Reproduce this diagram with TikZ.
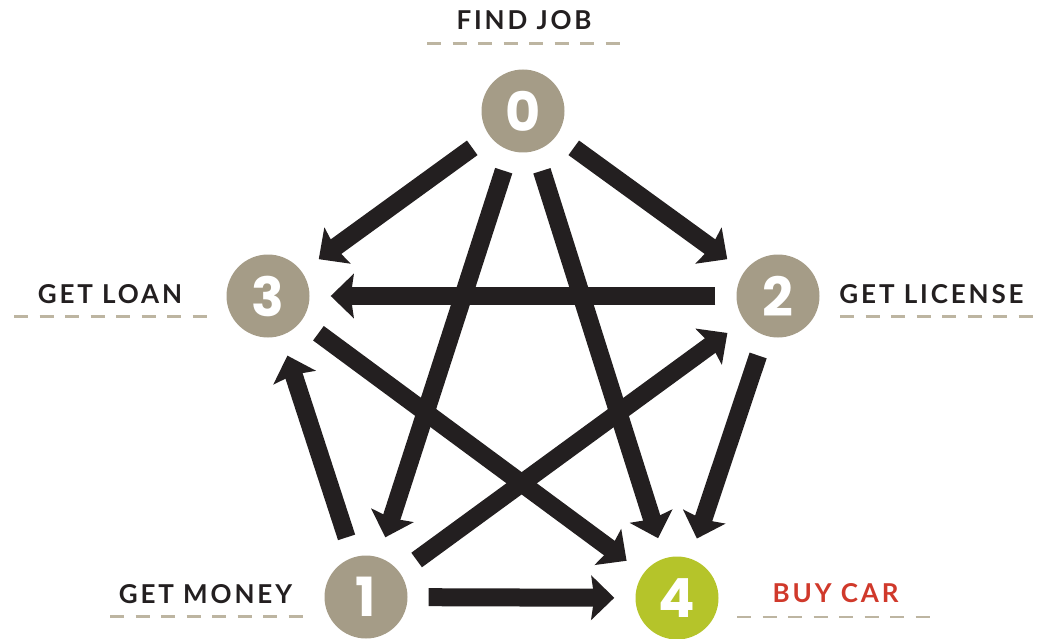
\documentclass[tikz,border=0pt]{standalone}
\usepackage{fontspec}
\setmainfont{Lato}
\newfontfamily\labelfont[LetterSpace=11]{Lato}
\newfontfamily\digitfont{Poppins}
\usetikzlibrary{arrows.meta}
\definecolor{tan}{HTML}{A59C87}
\definecolor{lime}{HTML}{B5C42A}
\definecolor{ink}{HTML}{231F20}
\definecolor{carred}{HTML}{D0392B}
\definecolor{dashtan}{HTML}{BDB5A1}
\begin{document}
\begin{tikzpicture}[x=1pt,y=-1pt,
  stage/.style={circle, fill=tan, minimum size=83pt, inner sep=0pt, text=white,
    font=\digitfont\bfseries\fontsize{54}{54}\selectfont},
  goal/.style={stage, fill=lime},
  arr/.style={line width=18pt, draw=ink, -{Stealth[length=23pt,width=44pt,inset=3pt]},
    shorten <=21pt, shorten >=21pt},
  lbl/.style={font=\labelfont\bfseries\fontsize{26}{26}\selectfont, text=ink, inner sep=0pt, anchor=base},
  dashline/.style={draw=dashtan, line width=2.5pt, dash pattern=on 14pt off 11.5pt}]
\useasboundingbox (0,0) rectangle (1049,639);

\node[stage] (n0) at (523,111) {0};
\node[stage] (n3) at (268,296) {3};
\node[stage] (n2) at (778,296) {2};
\node[stage] (n1) at (366,597) {1};
\node[goal]  (n4) at (677,598) {4};

\draw[arr] (n0) -- (n3);
\draw[arr] (n0) -- (n2);
\draw[arr] (n0) -- (n1);
\draw[arr] (n0) -- (n4);
\draw[arr] (n2) -- (n3);
\draw[arr] (n3) -- (n4);
\draw[arr] (n1) -- (n3);
\draw[arr] (n1) -- (n2);
\draw[arr] (n2) -- (n4);
\draw[arr] (n1) -- (n4);

\node[lbl] (l0) at (524,30) {FIND JOB};
\node[lbl] (l3) at (110,303) {GET LOAN};
\node[lbl] (l2) at (931.5,303) {GET LICENSE};
\node[lbl] (l1) at (205.5,603) {GET MONEY};
\node[lbl, text=carred] (l4) at (835.5,602) {BUY CAR};

\draw[dashline] (427,43.3) -- (620,43.3);
\draw[dashline] (14,316.3) -- (207,316.3);
\draw[dashline] (840,316.5) -- (1033,316.5);
\draw[dashline] (110,616.7) -- (303,616.7);
\draw[dashline] (737,617) -- (930,617);
\end{tikzpicture}
\end{document}
